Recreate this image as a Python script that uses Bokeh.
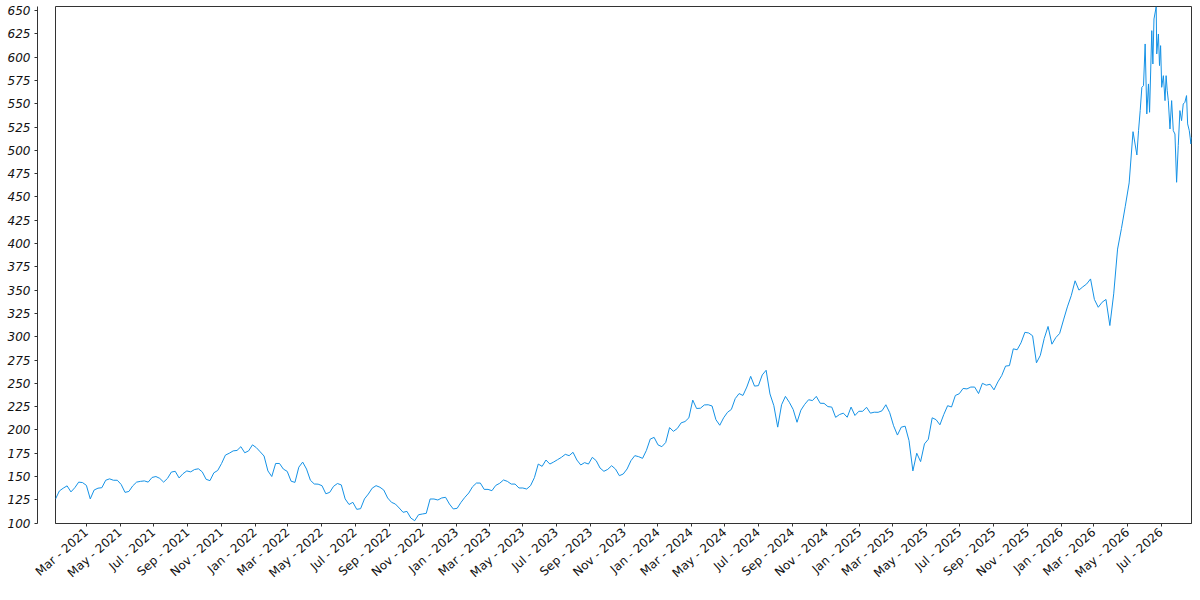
import pandas as pd
from bokeh.plotting import figure
from bokeh.models import Range1d, FixedTicker, DatetimeTickFormatter, ColumnDataSource, LinearAxis
from bokeh.embed import file_html
from bokeh.resources import INLINE

# ---- data ----
# weekly readings from 2021-01-04 up to 2026-05-18
weekly_start = "2021-01-04"
weekly_values = [
    125.9, 134.5, 137.5, 140, 133.5, 138, 144, 143.5, 140.5, 126,
    135.5, 137.5, 138, 146, 147.5, 146, 146, 141.5, 133, 134,
    140, 144, 144.8, 145.3, 144, 149, 150, 148, 144, 148,
    154.8, 155.6, 148.5, 153, 156, 155, 157.5, 158.3, 155, 147,
    145.6, 154, 156.5, 164, 173, 175, 177.5, 178, 182, 175.5,
    177.5, 184, 181, 176.5, 172, 156, 150, 164, 164, 158,
    155.5, 145, 143.7, 160, 165.5, 158, 146, 142, 141.8, 140.2,
    131.5, 133, 139.5, 142.5, 141, 126, 120, 122.3, 114.8, 115.5,
    126, 131.2, 137.5, 140.2, 138.5, 135.5, 127, 122.3, 120.5, 116.2,
    111.6, 112.6, 105.5, 102.6, 109, 109.8, 110.5, 125.9, 125.9, 124.8,
    127, 127.7, 120.5, 115.2, 115.9, 122.3, 127.7, 132.3, 139.1, 143,
    143, 136.2, 136.2, 134.8, 140.5, 142.7, 146.3, 144.8, 141.9, 141.9,
    137.7, 137.7, 136.6, 140.2, 148.8, 163.4, 160.9, 167.7, 163.4, 165.6,
    168.1, 170.6, 173.8, 172.4, 176, 167.7, 162.4, 164.9, 163.4, 170.6,
    167, 159.1, 155.6, 157.7, 161.6, 158, 150.9, 152.7, 158.1, 167,
    172.4, 171.3, 169.5, 178, 190.2, 192, 184, 182, 186.5, 202.5,
    198.5, 201.5, 207.6, 209, 213, 232, 223, 223.3, 226.8, 227,
    225.7, 211, 205, 213, 218.9, 222, 233.6, 239, 237, 246,
    257.5, 247, 247.5, 259, 264, 238.6, 226, 203, 227, 236,
    229.7, 222, 208.2, 221.2, 227.5, 232.4, 231.5, 236, 228.6, 228.5,
    225, 224.5, 213.5, 216.5, 218, 213.6, 224.5, 215.5, 220, 220,
    224.3, 218, 219, 218.9, 220.5, 227, 218.5, 204.5, 194.5, 203,
    204, 188.5, 156, 175, 166, 185, 190, 213, 211, 205.5,
    216.5, 226, 224.6, 237, 238.8, 244.5, 244, 246, 246, 239,
    250, 248, 249, 243, 251.5, 258.3, 268.5, 269, 287, 286,
    293.5, 304.7, 304, 301, 272, 280, 298, 311, 292, 299,
    303.5, 318, 332, 344, 360, 350, 353.5, 356.6, 362, 340,
    331.6, 337, 340, 312, 346, 394, 416, 440, 465, 520,
    495,
]
# finer readings for the volatile summer of 2026
late_dates = [
    "2026-05-21", "2026-05-24", "2026-05-27", "2026-05-30", "2026-06-02",
    "2026-06-05", "2026-06-08", "2026-06-10", "2026-06-14", "2026-06-16",
    "2026-06-18", "2026-06-22", "2026-06-23", "2026-06-26", "2026-06-28",
    "2026-06-30", "2026-07-02", "2026-07-05", "2026-07-08", "2026-07-10",
    "2026-07-12", "2026-07-14", "2026-07-17", "2026-07-20", "2026-07-23",
    "2026-07-26", "2026-07-29", "2026-08-01", "2026-08-04", "2026-08-07",
    "2026-08-10", "2026-08-13", "2026-08-16", "2026-08-18", "2026-08-21",
    "2026-08-24", "2026-08-25",
]
late_values = [
    521.1, 542.6, 567.6, 569.4, 614.1,
    539.0, 571.2, 540.8, 628.4, 592.6,
    640.9, 654.0, 603.4, 624.8, 590.9,
    612.3, 567.6, 580.1, 553.3, 580.1,
    564.0, 553.3, 522.9, 553.3, 521.1,
    517.5, 465.7, 505.0, 542.6, 531.8,
    549.7, 551.5, 558.7, 528.3, 521.1,
    506.8, 514.0,
]
y_ticks = list(range(100, 651, 25))
x_tick_dates = pd.date_range("2021-03-01", "2026-07-01", freq="2MS")
tick_format = "%b - %Y"

dates = list(pd.date_range(weekly_start, periods=len(weekly_values), freq="7D")) + \
    list(pd.to_datetime(late_dates))
values = weekly_values + late_values
src = ColumnDataSource(dict(date=dates, value=values))

p = figure(
    width=1192, height=592,
    x_axis_type="datetime", y_axis_location=None,
    output_backend="svg", toolbar_location=None,
    x_range=Range1d(dates[0], dates[-1]),
    y_range=Range1d(99.6, 654.3),
    min_border_left=55, min_border_right=1,
    min_border_top=6, min_border_bottom=69,
)
p.background_fill_color = "white"
p.border_fill_color = "white"
p.outline_line_color = "#333333"
p.outline_line_alpha = 1.0
p.grid.visible = False

p.line("date", "value", source=src, line_color="#1592e6", line_width=1)

# empty spacer axis next to the frame (its blank label reserves the gap),
# so that the value axis sits apart from the frame
gap_axis = LinearAxis(ticker=FixedTicker(ticks=[]), axis_line_color=None,
                      major_tick_line_color=None, minor_tick_line_color=None,
                      major_tick_in=0, major_tick_out=0, minor_tick_out=0,
                      major_label_standoff=0,
                      axis_label=" ", axis_label_standoff=0,
                      axis_label_text_font_size="13px")
yax = LinearAxis(ticker=FixedTicker(ticks=y_ticks))
p.add_layout(gap_axis, "left")
p.add_layout(yax, "left")

xax = p.xaxis[0]
for ax in (xax, yax):
    ax.axis_line_color = "#333333"
    ax.major_tick_line_color = "#333333"
    ax.minor_tick_line_color = None
    ax.major_tick_in = 0
    ax.major_tick_out = 3
    ax.major_label_text_font = "DejaVu Sans"
    ax.major_label_text_font_size = "12px"
    ax.major_label_text_color = "#111111"

yax.major_label_text_font_style = "italic"
yax.major_label_standoff = 4

xax.ticker = FixedTicker(ticks=[d.timestamp() * 1000 for d in x_tick_dates])
xax.formatter = DatetimeTickFormatter(
    milliseconds=tick_format, seconds=tick_format, minsec=tick_format,
    minutes=tick_format, hourmin=tick_format, hours=tick_format,
    days=tick_format, months=tick_format, years=tick_format,
)
xax.major_label_orientation = 0.72
xax.major_label_standoff = 4

open("out.html", "w").write(file_html(p, INLINE))
